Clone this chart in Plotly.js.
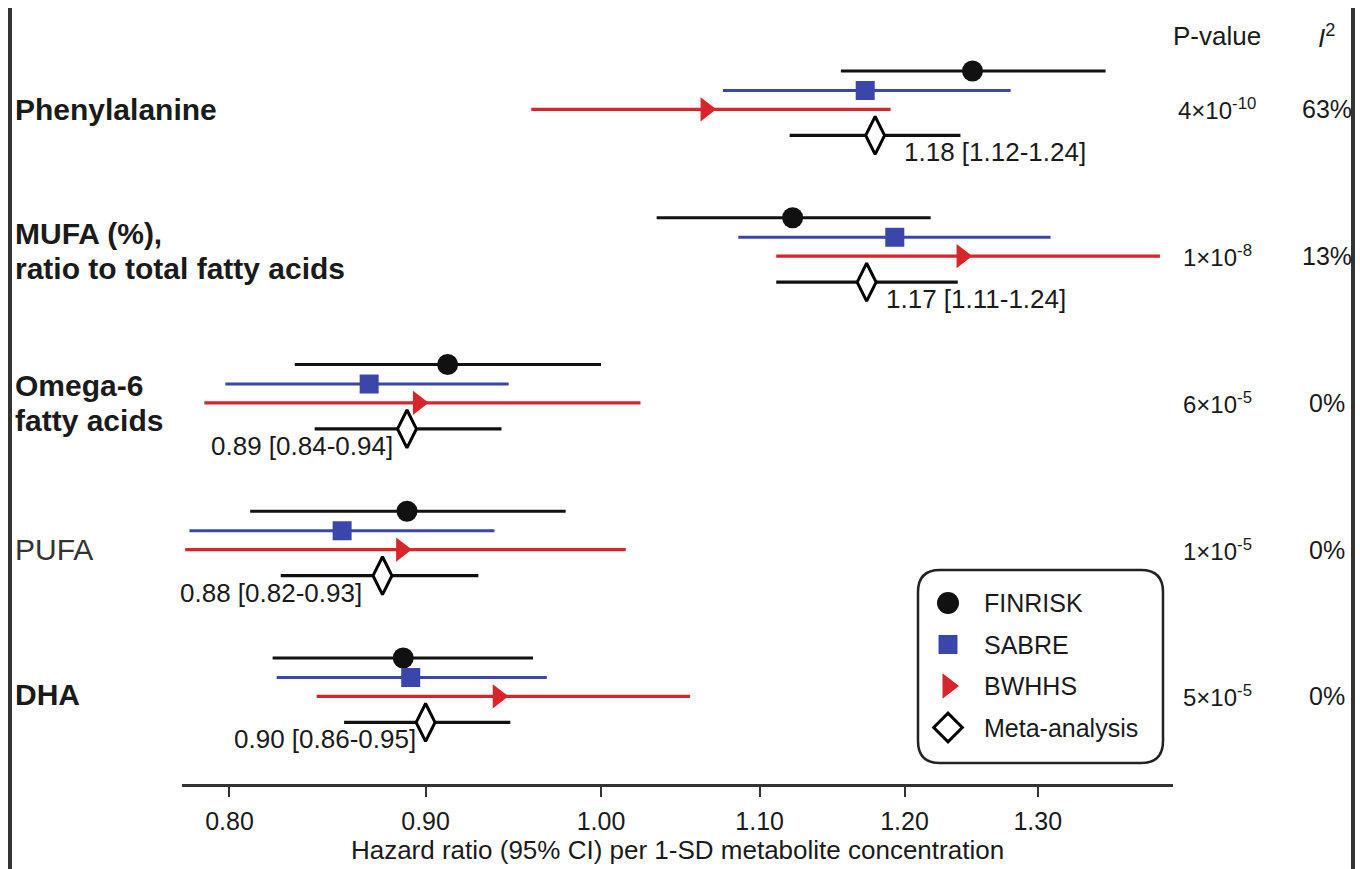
<!DOCTYPE html>
<html>
<head>
<meta charset="utf-8">
<script src="https://cdn.plot.ly/plotly-3.0.1.min.js"></script>
<style>html,body{margin:0;padding:0;background:#fff;}#chart{width:1360px;height:869px;}</style>
</head>
<body>
<div id="chart"></div>
<script>
// ---------------- DATA ----------------
const groupLabels = ['Phenylalanine', 'MUFA (%),|ratio to total fatty acids', 'Omega-6|fatty acids', 'PUFA', 'DHA'];
const labelBold = [true, true, true, false, true];
const seriesNames = ['FINRISK', 'SABRE', 'BWHHS', 'Meta-analysis'];

const finriskHR = [1.250, 1.122, 0.912, 0.890, 0.888];
const finriskLo = [1.155, 1.034, 0.832, 0.810, 0.821];
const finriskHi = [1.354, 1.219, 1.000, 0.979, 0.960];

const sabreHR = [1.172, 1.193, 0.870, 0.856, 0.892];
const sabreLo = [1.076, 1.086, 0.798, 0.781, 0.823];
const sabreHi = [1.279, 1.310, 0.946, 0.938, 0.968];

const bwhhsHR = [1.065, 1.242, 0.896, 0.887, 0.940];
const bwhhsLo = [0.959, 1.111, 0.788, 0.779, 0.843];
const bwhhsHi = [1.190, 1.399, 1.024, 1.015, 1.055];

const metaHR = [1.179, 1.173, 0.890, 0.877, 0.900];
const metaLo = [1.120, 1.111, 0.842, 0.825, 0.857];
const metaHi = [1.241, 1.239, 0.942, 0.929, 0.947];

const metaText = ['1.18 [1.12-1.24]', '1.17 [1.11-1.24]', '0.89 [0.84-0.94]', '0.88 [0.82-0.93]', '0.90 [0.86-0.95]'];
const pValues = ['4×10<sup>-10</sup>', '1×10<sup>-8</sup>', '6×10<sup>-5</sup>', '1×10<sup>-5</sup>', '5×10<sup>-5</sup>'];
const i2Values = ['63%', '13%', '0%', '0%', '0%'];

const tickVals = [0.80, 0.90, 1.00, 1.10, 1.20, 1.30];
const tickText = ['0.80', '0.90', '1.00', '1.10', '1.20', '1.30'];
const xTitle = 'Hazard ratio (95% CI) per 1-SD metabolite concentration';

// ---------------- LAYOUT HELPERS ----------------
const FONT = 'Liberation Sans, Arial, Helvetica, sans-serif';
const TXT = '#1a1a1a';
const PL = 182, PR = 1173, PT = 50, PB = 784;       // plot area in pixels
const W = 1360, H = 869;
const pxX = px => (px - PL) / (PR - PL);
const pxY = py => (PB - py) / (PB - PT);
const GROUP_BASE = 71, GROUP_STEP = 146.75;
const yTop = (PT - GROUP_BASE) / GROUP_STEP, yBot = (PB - GROUP_BASE) / GROUP_STEP;
const rowOffset = [0, 0.133, 0.261, 0.439];

const colors = ['#111111', '#3a46aa', '#d6262c', '#111111'];
const symbols = ['circle', 'square', 'triangle-right', 'diamond-tall'];
const sizes = [21, 19, 21, 27];
const barWidth = [3.2, 2.8, 3.2, 3.2];

const seriesHR = [finriskHR, sabreHR, bwhhsHR, metaHR];
const seriesLo = [finriskLo, sabreLo, bwhhsLo, metaLo];
const seriesHi = [finriskHi, sabreHi, bwhhsHi, metaHi];

const traces = seriesNames.map((name, s) => {
  const hr = seriesHR[s];
  return {
    type: 'scatter', mode: 'markers', name: name, showlegend: false,
    x: hr,
    y: hr.map((_, g) => g + rowOffset[s]),
    error_x: {
      type: 'data', symmetric: false,
      array: hr.map((v, g) => seriesHi[s][g] - v),
      arrayminus: hr.map((v, g) => v - seriesLo[s][g]),
      color: colors[s], thickness: barWidth[s], width: 0
    },
    marker: s === 3
      ? {symbol: symbols[s], size: sizes[s], color: '#ffffff', opacity: 1, line: {color: '#000', width: 3}}
      : {symbol: symbols[s], size: sizes[s], color: colors[s], opacity: 1, line: {width: 0}},
    hoverinfo: 'x+name'
  };
});

// manual legend (on a pixel-unit overlay axis)
const legX = 948, legTextX = 982, legY0 = 603, legStep = 41.5;
const legendSym = ['circle', 'square', 'triangle-right', 'diamond'];
const legendSize = [22, 19, 22, 22];
traces.push({
  type: 'scatter', mode: 'markers', xaxis: 'x2', yaxis: 'y2', showlegend: false, hoverinfo: 'skip',
  x: seriesNames.map(() => legX),
  y: seriesNames.map((_, s) => legY0 + s * legStep),
  marker: {
    symbol: legendSym, size: legendSize, opacity: 1,
    color: seriesNames.map((_, s) => s === 3 ? '#ffffff' : colors[s]),
    line: {color: '#000', width: seriesNames.map((_, s) => s === 3 ? 3 : 0)}
  }
});

const annotations = [];
// group labels
const labelShift = [0, 5, 0, 0, 2];
groupLabels.forEach((lab, g) => {
  const lines = lab.split('|');
  const lh = 35;
  lines.forEach((ln, i) => {
    annotations.push({
      xref: 'paper', yref: 'y', x: pxX(13), y: g + rowOffset[2],
      xanchor: 'left', yanchor: 'middle', showarrow: false, align: 'left',
      yshift: labelShift[g] - (i - (lines.length - 1) / 2) * lh,
      text: labelBold[g] ? '<b>' + ln + '</b>' : ln,
      font: {family: FONT, size: 30, color: labelBold[g] ? TXT : '#333'}
    });
  });
});
// meta-analysis texts
const metaSide = ['left', 'left', 'right', 'right', 'right'];
const metaXShift = [27, 17, -12, -18, -8];
metaText.forEach((t, g) => {
  annotations.push({
    xref: 'x', yref: 'y', x: Math.log10(metaHR[g]), y: g + rowOffset[3],
    xanchor: metaSide[g], yanchor: 'middle', showarrow: false,
    xshift: metaXShift[g], yshift: -17,
    text: t, font: {family: FONT, size: 26, color: TXT}
  });
});
// P-values and I2
annotations.push({xref: 'paper', yref: 'paper', x: pxX(1217), y: pxY(36), xanchor: 'center', yanchor: 'middle',
  showarrow: false, text: 'P-value', font: {family: FONT, size: 26, color: TXT}});
annotations.push({xref: 'paper', yref: 'paper', x: pxX(1326), y: pxY(36), xanchor: 'center', yanchor: 'middle',
  showarrow: false, text: '<i>I</i><sup>2</sup>', font: {family: FONT, size: 26, color: TXT}});
pValues.forEach((p, g) => {
  annotations.push({xref: 'paper', yref: 'y', x: pxX(1217), y: g + rowOffset[2], xanchor: 'center', yanchor: 'middle',
    showarrow: false, text: p, font: {family: FONT, size: 24, color: TXT}});
  annotations.push({xref: 'paper', yref: 'y', x: pxX(1327), y: g + rowOffset[2], xanchor: 'center', yanchor: 'middle',
    showarrow: false, text: i2Values[g], font: {family: FONT, size: 25, color: TXT}});
});
// legend labels
seriesNames.forEach((n, s) => {
  annotations.push({xref: 'x2', yref: 'y2', x: legTextX, y: legY0 + s * legStep, xanchor: 'left', yanchor: 'middle',
    showarrow: false, text: n, font: {family: FONT, size: 25, color: TXT}});
});

// rounded legend box (pixel units on overlay axes)
const bx0 = 918, bx1 = 1163, by0 = 570, by1 = 763, r = 22;
const boxPath = `M${bx0 + r},${by0} L${bx1 - r},${by0} Q${bx1},${by0} ${bx1},${by0 + r} L${bx1},${by1 - r} Q${bx1},${by1} ${bx1 - r},${by1} L${bx0 + r},${by1} Q${bx0},${by1} ${bx0},${by1 - r} L${bx0},${by0 + r} Q${bx0},${by0} ${bx0 + r},${by0} Z`;

const shapes = [
  {type: 'line', xref: 'x', yref: 'paper', x0: 1, x1: 1, y0: 0, y1: pxY(53), line: {color: '#333', width: 2}, layer: 'below'},
  {type: 'line', xref: 'x', yref: 'paper', x0: 0.8, x1: 0.8, y0: pxY(780), y1: 1, line: {color: '#777', width: 1.5, dash: 'dot'}, layer: 'below'},
  {type: 'line', xref: 'x', yref: 'paper', x0: 1.2, x1: 1.2, y0: pxY(780), y1: 1, line: {color: '#777', width: 1.5, dash: 'dot'}, layer: 'below'},
  {type: 'path', xref: 'x2', yref: 'y2', path: boxPath, line: {color: '#222', width: 2.5}, fillcolor: 'rgba(255,255,255,0)'},
  {type: 'line', xref: 'paper', yref: 'paper', x0: pxX(10), x1: pxX(10), y0: pxY(869), y1: pxY(8), line: {color: '#333', width: 4}},
  {type: 'line', xref: 'paper', yref: 'paper', x0: pxX(1353), x1: pxX(1353), y0: pxY(869), y1: pxY(8), line: {color: '#333', width: 4}}
];
// shapes on a log axis take log10 positions
shapes.forEach(sh => { if (sh.xref === 'x') { sh.x0 = Math.log10(sh.x0); sh.x1 = Math.log10(sh.x1); } });

const layout = {
  width: W, height: H,
  margin: {l: PL, r: W - PR, t: PT, b: H - PB},
  paper_bgcolor: '#fff', plot_bgcolor: 'rgba(0,0,0,0)',
  showlegend: false,
  font: {family: FONT, color: TXT},
  xaxis: {
    type: 'log', range: [Math.log10(0.7775), Math.log10(1.41)],
    tickvals: tickVals, ticktext: tickText,
    showgrid: false, zeroline: false,
    showline: true, linecolor: '#333', linewidth: 2.5,
    ticks: 'outside', ticklen: 10, tickwidth: 2, tickcolor: '#333',
    ticklabelstandoff: 3,
    tickfont: {family: FONT, size: 25, color: TXT},
    title: {text: xTitle, font: {family: FONT, size: 26, color: TXT}, standoff: 8}
  },
  yaxis: {
    range: [yBot, yTop], showgrid: false, zeroline: false, showline: false,
    showticklabels: false, ticks: ''
  },
  xaxis2: {overlaying: 'x', anchor: 'y2', range: [PL, PR], visible: false, fixedrange: true},
  yaxis2: {overlaying: 'y', anchor: 'x2', range: [PB, PT], visible: false, fixedrange: true},
  shapes: shapes,
  annotations: annotations
};

Plotly.newPlot('chart', traces, layout, {displayModeBar: false, staticPlot: true});
</script>
</body>
</html>
